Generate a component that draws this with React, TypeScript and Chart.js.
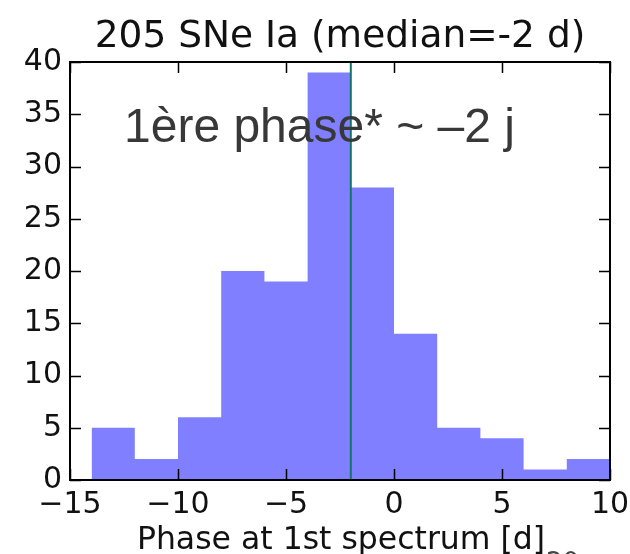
import { useEffect, useRef } from "react";
import { Chart, registerables } from "chart.js";

Chart.register(...registerables);

// Histogram of the phase (days from maximum) at which the first spectrum was taken
const binEdges = [-14, -12, -10, -8, -6, -4, -2, 0, 2, 4, 6, 8, 10];
const binCounts = [5, 2, 6, 20, 19, 39, 28, 14, 5, 4, 1, 2];
const medianPhase = -2;
const sampleSize = 205;

const xTickValues = [-15, -10, -5, 0, 5, 10];
const yTickValues = [0, 5, 10, 15, 20, 25, 30, 35, 40];

const titleText = `${sampleSize} SNe Ia (median=${medianPhase} d)`;
const xAxisLabel = "Phase at 1st spectrum [d]";
const annotationText = "1ère phase* ~ –2 j";
const footerText = "20";

const MPL_FONT = '"DejaVu Sans", sans-serif';

const fmtTick = (v: number) => (v < 0 ? "\u2212" + Math.abs(v) : String(v));

// Frame, inward tick marks and all free text
const decorPlugin = {
  id: "decor",
  afterDatasetsDraw(chart: any) {
    const { ctx, chartArea: a, scales } = chart;
    const x = scales.x;
    const y = scales.y;
    ctx.save();

    ctx.strokeStyle = "#000";
    ctx.lineWidth = 1.5;
    const tl = 11;
    ctx.beginPath();
    for (const v of xTickValues) {
      const px = Math.round(x.getPixelForValue(v)) + 0.5;
      ctx.moveTo(px, a.bottom);
      ctx.lineTo(px, a.bottom - tl);
      ctx.moveTo(px, a.top);
      ctx.lineTo(px, a.top + tl);
    }
    for (const v of yTickValues) {
      const py = Math.round(y.getPixelForValue(v)) + 0.5;
      ctx.moveTo(a.left, py);
      ctx.lineTo(a.left + tl, py);
      ctx.moveTo(a.right, py);
      ctx.lineTo(a.right - tl, py);
    }
    ctx.stroke();

    ctx.lineWidth = 2;
    ctx.strokeRect(a.left, a.top, a.right - a.left, a.bottom - a.top);

    const cx = (a.left + a.right) / 2;
    ctx.fillStyle = "#111";
    ctx.textAlign = "center";
    ctx.textBaseline = "alphabetic";
    ctx.font = `37.5px ${MPL_FONT}`;
    ctx.fillText(titleText, cx, 47);

    ctx.font = `31.5px ${MPL_FONT}`;
    ctx.fillText(xAxisLabel, cx + 1, 549);

    ctx.fillStyle = "#444";
    ctx.textAlign = "left";
    ctx.font = `26px ${MPL_FONT}`;
    ctx.fillText(footerText, 546, 571);

    ctx.fillStyle = "#383838";
    ctx.font = '48px "Liberation Sans", Arial, sans-serif';
    ctx.fillText(annotationText, 124, 142);

    ctx.restore();
  },
};

export default function App() {
  const canvasRef = useRef<HTMLCanvasElement | null>(null);

  useEffect(() => {
    document.body.style.margin = "0";
    const canvas = canvasRef.current;
    if (!canvas) return;

    const histPoints = binCounts.map((c, i) => ({ x: binEdges[i], y: c }));
    histPoints.push({
      x: binEdges[binEdges.length - 1],
      y: binCounts[binCounts.length - 1],
    });

    const tickFont = { family: MPL_FONT, size: 30 };

    const chart = new Chart(canvas, {
      type: "line",
      data: {
        datasets: [
          {
            label: "counts",
            data: histPoints,
            stepped: true,
            fill: "origin",
            backgroundColor: "rgba(0,0,255,0.5)",
            borderColor: "rgba(0,0,0,0)",
            borderWidth: 0,
            pointRadius: 0,
            order: 2,
          },
          {
            label: "median",
            data: [
              { x: medianPhase, y: 0 },
              { x: medianPhase, y: 40 },
            ],
            borderColor: "#137563",
            borderWidth: 2,
            pointRadius: 0,
            fill: false,
            order: 1,
          },
        ],
      },
      options: {
        responsive: false,
        animation: false,
        devicePixelRatio: 1,
        events: [],
        layout: { padding: { top: 62, left: 0, right: 20, bottom: 0 } },
        plugins: {
          legend: { display: false },
          tooltip: { enabled: false },
          title: { display: false },
        },
        scales: {
          x: {
            type: "linear",
            min: -15,
            max: 10,
            grid: { display: false, drawTicks: false },
            border: { display: false },
            afterBuildTicks: (s: any) => {
              s.ticks = xTickValues.map((v) => ({ value: v }));
            },
            afterFit: (s: any) => {
              s.height = 74;
              s.paddingLeft = 0;
              s.paddingRight = 0;
            },
            ticks: {
              font: tickFont,
              color: "#111",
              padding: 7,
              maxRotation: 0,
              autoSkip: false,
              callback: (v: any) => fmtTick(Number(v)),
            },
          },
          y: {
            type: "linear",
            min: 0,
            max: 40,
            grid: { display: false, drawTicks: false },
            border: { display: false },
            afterBuildTicks: (s: any) => {
              s.ticks = yTickValues.map((v) => ({ value: v }));
            },
            afterFit: (s: any) => {
              s.width = 70;
              s.paddingTop = 0;
              s.paddingBottom = 0;
            },
            ticks: {
              font: tickFont,
              color: "#111",
              padding: 8,
              autoSkip: false,
              callback: (v: any) => fmtTick(Number(v)),
            },
          },
        },
      },
      plugins: [decorPlugin],
    } as any);

    return () => chart.destroy();
  }, []);

  return (
    <canvas
      ref={canvasRef}
      width={630}
      height={554}
      style={{ display: "block", width: 630, height: 554 }}
    />
  );
}
